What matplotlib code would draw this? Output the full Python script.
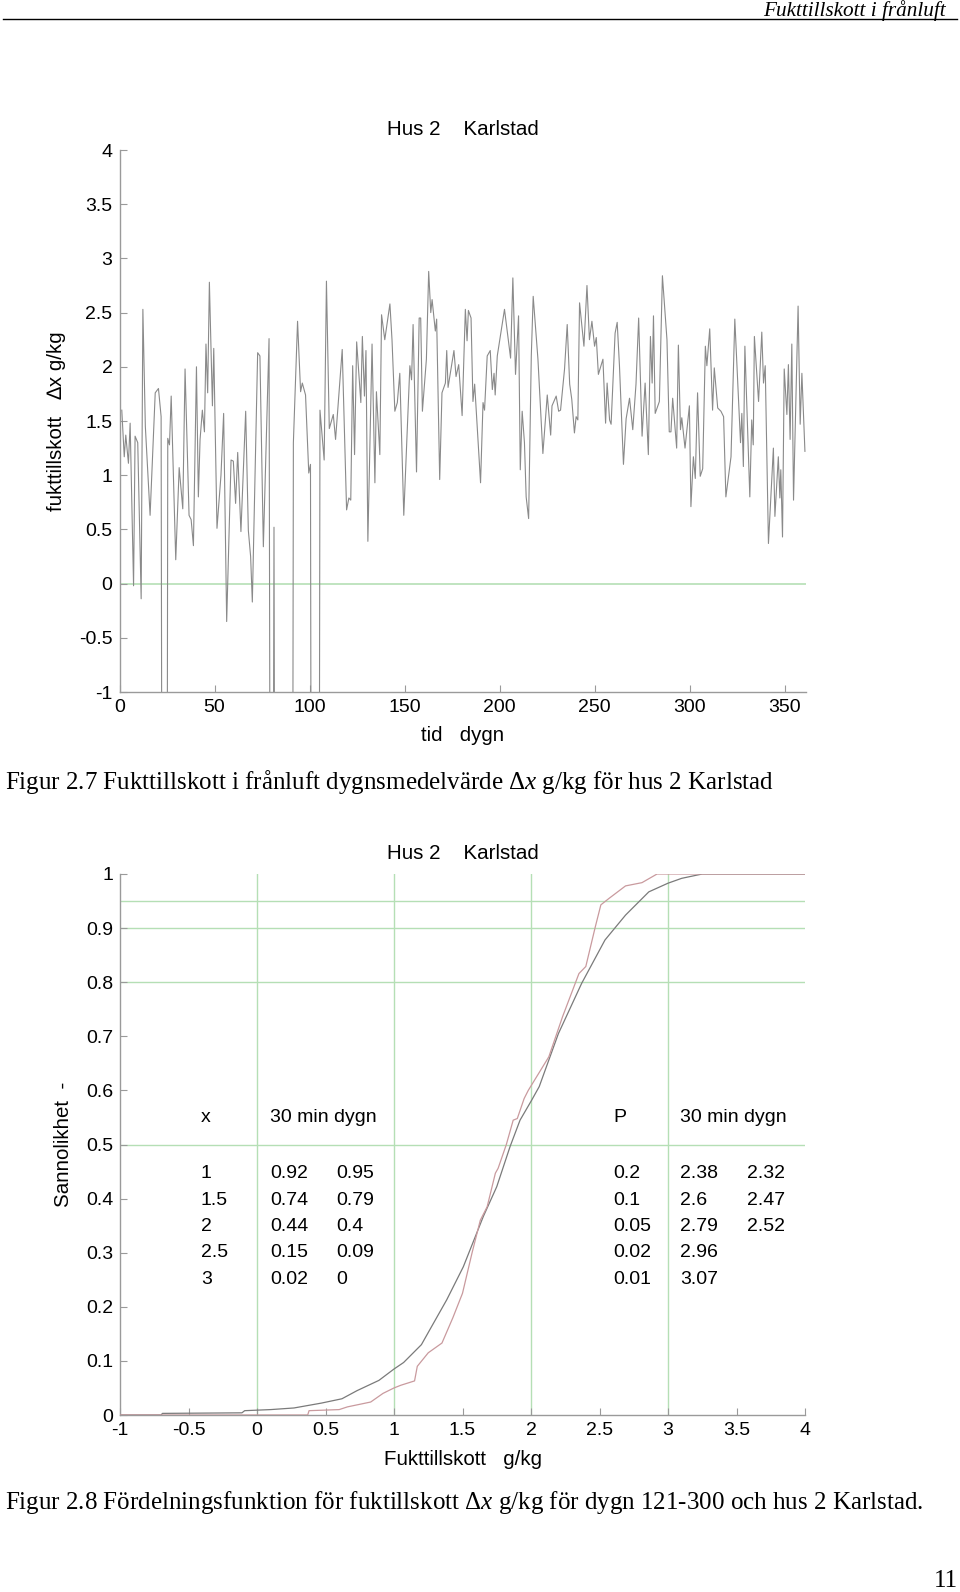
import matplotlib
matplotlib.use("Agg")
import matplotlib.pyplot as plt

plt.rcParams['font.family'] = ['Liberation Sans', 'DejaVu Sans']
plt.rcParams['mathtext.fontset'] = 'custom'
plt.rcParams['mathtext.rm'] = 'Liberation Serif'
plt.rcParams['mathtext.it'] = 'Liberation Serif:italic'

# ---------------- data: daily mean moisture supplement (top chart) ----------------
OFF = -9.0  # values far below the axis (shown as spikes out of the frame)
days = [1.2, 2.5, 3.3, 4.7, 5.6, 7.4, 8.2, 9.6, 11.4, 12.3, 13.6, 16.1, 18.8, 20.5, 21.9,
        23.0, 24.5, 25.4, 26.3, 27.2, 29.6, 31.4, 33.3, 34.5, 36.6, 37.7, 38.9, 40.5, 41.5,
        42.4, 43.6, 44.7, 45.5, 46.4, 47.3, 48.9, 49.6, 51.3, 53.4, 54.8, 56.4, 58.7, 59.9,
        61.1, 62.2, 63.9, 66.4, 67.8, 69.0, 69.9, 72.7, 73.9, 75.7, 78.7, 80.0, 81.3, 82.5,
        90.5, 91.5, 93.7, 95.3, 96.2, 97.9, 99.6, 100.5, 101.5, 104.5, 105.5, 107.7, 108.9,
        110.4, 112.5, 113.7, 117.2, 119.5, 120.7, 121.7, 122.7, 123.7, 124.8, 127.0, 127.8,
        128.9, 129.7, 130.7, 132.9, 134.4, 135.2, 137.0, 137.9, 139.6, 142.3, 143.4, 144.9,
        146.2, 147.5, 149.6, 152.8, 153.7, 154.5, 156.3, 157.7, 158.5, 159.4, 161.5, 162.7,
        163.8, 164.5, 166.2, 166.9, 168.5, 169.7, 171.5, 172.2, 172.9, 176.0, 177.1, 178.5,
        180.3, 182.0, 182.9, 183.6, 185.0, 186.0, 186.9, 190.0, 191.3, 192.1, 193.5, 195.1,
        196.2, 197.1, 197.7, 198.8, 200.4, 202.6, 205.8, 207.0, 208.4, 210.0, 210.9, 211.9,
        213.1, 214.0, 215.3, 216.7, 217.7, 220.2, 222.8, 225.1, 226.9, 227.6, 229.8, 231.1,
        232.1, 234.2, 235.6, 236.9, 238.0, 239.4, 240.3, 241.2, 242.1, 244.4, 246.0, 247.3,
        248.6, 250.0, 250.9, 252.0, 254.4, 255.8, 256.6, 257.9, 258.7, 260.8, 261.9, 263.1,
        265.2, 266.6, 268.4, 270.1, 271.8, 273.2, 275.0, 276.6, 278.3, 279.4, 280.3, 281.0,
        281.9, 284.1, 285.7, 288.1, 289.3, 290.2, 291.1, 293.2, 294.1, 295.2, 295.9, 297.6,
        299.9, 300.7, 302.0, 303.0, 304.2, 305.6, 306.9, 308.3, 309.1, 310.6, 312.1, 313.0,
        314.8, 316.5, 317.9, 319.1, 321.8, 323.8, 326.8, 327.5, 328.3, 329.1, 331.7, 332.7,
        333.5, 334.1, 336.3, 338.0, 338.9, 339.8, 341.5, 344.1, 344.9, 346.7, 347.5, 348.0,
        348.9, 349.8, 351.2, 352.0, 352.9, 353.8, 354.7, 357.1, 358.2, 359.1, 360.7]
dx = [1.60, 1.17, 1.37, 1.11, 1.48, -0.02, 1.36, 1.30, -0.14, 2.53, 1.45, 0.63, 1.76, 1.80, 1.54,
      OFF, OFF, 1.34, 1.28, 1.73, 0.22, 1.07, 0.69, 1.98, 0.63, 0.59, 0.35, 2.00, 0.80,
      1.33, 1.60, 1.40, 2.21, 1.76, 2.78, 1.64, 2.17, 0.51, 1.00, 1.57, -0.35, 1.14, 1.13,
      0.74, 1.21, 0.48, 1.59, 0.49, 0.25, -0.17, 2.13, 2.10, 0.34, 2.26, OFF, 0.52, OFF,
      OFF, 1.30, 2.42, 1.77, 1.85, 1.74, 1.02, 1.10, OFF, OFF, 1.60, 1.14, 2.79,
      1.43, 1.56, 1.33, 2.16, 0.68, 0.79, 0.77, 2.01, 1.19, 2.23, 1.67, 2.28,
      1.73, 2.15, 0.39, 2.21, 0.93, 1.77, 1.19, 2.48, 2.25, 2.58, 2.25, 1.59,
      1.67, 1.94, 0.63, 2.01, 1.88, 2.39, 1.03, 2.45, 2.45, 1.59, 2.07, 2.88,
      2.50, 2.62, 2.33, 2.44, 0.96, 1.76, 1.85, 2.15, 1.81, 2.15, 1.91, 2.02,
      1.55, 2.53, 2.24, 2.52, 2.45, 1.68, 1.84, 0.93, 1.67, 1.60, 2.10, 2.15,
      1.79, 1.94, 1.74, 2.10, 2.28, 2.53, 2.08, 2.82, 1.93, 2.47, 1.05, 1.59,
      1.30, 0.80, 0.60, 2.10, 2.65, 2.07, 1.20, 1.74, 1.37, 1.64, 1.73, 1.59,
      1.60, 1.98, 2.39, 1.84, 1.70, 1.39, 1.54, 1.51, 2.59, 2.19, 2.75, 2.25,
      2.42, 2.19, 2.27, 1.93, 2.07, 1.48, 1.85, 1.51, 1.47, 2.31, 2.41, 2.01,
      1.10, 1.52, 1.71, 1.42, 1.84, 2.45, 1.36, 1.85, 1.19, 2.28, 1.85, 2.47,
      1.57, 1.68, 2.84, 2.25, 1.40, 1.40, 1.71, 1.25, 2.20, 1.42, 1.53, 1.25,
      1.64, 0.71, 1.17, 0.97, 1.76, 0.99, 1.06, 2.19, 2.01, 2.35, 1.60, 1.99,
      1.62, 1.59, 1.54, 0.80, 1.17, 2.44, 1.30, 1.57, 1.08, 2.19, 0.80, 1.51,
      1.28, 2.28, 1.68, 2.32, 1.85, 2.01, 0.37, 1.25, 0.62, 1.17, 0.79, 1.05,
      0.43, 1.98, 1.56, 2.02, 1.33, 2.21, 0.77, 2.56, 1.47, 1.94, 1.22]

# ---------------- data: distribution functions (bottom chart) ----------------
x_30min = [-1.0, -0.70, -0.69, -0.11, -0.09, 0.10, 0.27, 0.47, 0.62, 0.73, 0.89, 1.00, 1.07,
           1.20, 1.26, 1.385, 1.506, 1.652, 1.75, 1.847, 1.92, 2.005, 2.06, 2.20, 2.37, 2.54,
           2.69, 2.86, 3.00, 3.10, 3.25, 4.0]
F_30min = [0.0, 0.0, 0.003, 0.004, 0.008, 0.010, 0.013, 0.022, 0.030, 0.045, 0.064, 0.085, 0.097,
           0.13, 0.157, 0.213, 0.274, 0.367, 0.422, 0.496, 0.545, 0.582, 0.607, 0.705, 0.798, 0.878,
           0.924, 0.967, 0.983, 0.992, 1.0, 1.0]
x_dygn = [-1.0, 0.37, 0.38, 0.60, 0.66, 0.83, 0.92, 1.00, 1.05, 1.15, 1.17, 1.25, 1.35, 1.43,
          1.50, 1.57, 1.63, 1.68, 1.74, 1.76, 1.82, 1.87, 1.90, 1.95, 1.98, 2.13, 2.23, 2.35,
          2.40, 2.47, 2.51, 2.57, 2.69, 2.81, 2.92, 4.0]
F_dygn = [0.0, 0.0, 0.008, 0.010, 0.015, 0.024, 0.040, 0.050, 0.055, 0.063, 0.09, 0.115, 0.133, 0.18,
          0.225, 0.30, 0.36, 0.385, 0.447, 0.456, 0.50, 0.545, 0.548, 0.585, 0.60, 0.662, 0.736, 0.816,
          0.829, 0.903, 0.943, 0.955, 0.978, 0.984, 1.0, 1.0]

tab_x = ["1", "1.5", "2", "2.5", "3"]
tab_exc_30min = ["0.92", "0.74", "0.44", "0.15", "0.02"]
tab_exc_dygn = ["0.95", "0.79", "0.4", "0.09", "0"]
tab_P = ["0.2", "0.1", "0.05", "0.02", "0.01"]
tab_xP_30min = ["2.38", "2.6", "2.79", "2.96", "3.07"]
tab_xP_dygn = ["2.32", "2.47", "2.52", "", ""]

top_yticks = [-1, -0.5, 0, 0.5, 1, 1.5, 2, 2.5, 3, 3.5, 4]
top_xticks = [0, 50, 100, 150, 200, 250, 300, 350]
bot_xticks = [-1, -0.5, 0, 0.5, 1, 1.5, 2, 2.5, 3, 3.5, 4]
bot_yticks = [0, 0.1, 0.2, 0.3, 0.4, 0.5, 0.6, 0.7, 0.8, 0.9, 1]
grid_v = [0, 1, 2, 3]
grid_h = [0.5, 0.8, 0.9, 0.95]

def fmt(v):
    return '%g' % v

W, H = 960, 1592
fig = plt.figure(figsize=(W / 100, H / 100), dpi=100)
fig.patch.set_facecolor('white')

SPINE = '#9a9a9a'
GREEN = '#b5dfb5'
FS = 14
LFS = 14.8

def style(ax):
    for s in ['top', 'right']:
        ax.spines[s].set_visible(False)
    for s in ['left', 'bottom']:
        ax.spines[s].set_color(SPINE)
        ax.spines[s].set_linewidth(1.0)
    ax.tick_params(direction='in', length=5, width=0.8, color=SPINE,
                   labelsize=FS, pad=5)

# ---------------- top chart ----------------
ax1 = fig.add_axes([119.5 / W, 1 - 692 / H, 686 / W, 542 / H])
style(ax1)
ax1.axhline(0, color=GREEN, lw=1.2, zorder=1)
ax1.plot(days, dx, color='#8a8a8a', lw=0.8, zorder=2)
ax1.set_xlim(0, 361)
ax1.set_ylim(-1, 4)
ax1.set_xticks(top_xticks)
ax1.set_xticklabels([fmt(v) for v in top_xticks])
ax1.set_yticks(top_yticks)
ax1.set_yticklabels([fmt(v) for v in top_yticks])
ax1.set_title('Hus 2    Karlstad', fontsize=LFS, pad=11)
ax1.set_xlabel('tid   dygn', fontsize=LFS, labelpad=7)
ax1.set_ylabel('fukttillskott   \u2206x g/kg', fontsize=LFS, labelpad=9)

# ---------------- bottom chart ----------------
ax2 = fig.add_axes([120 / W, 1 - 1415 / H, 685 / W, 541 / H])
style(ax2)
for v in grid_v:
    ax2.axvline(v, color=GREEN, lw=1.0, zorder=1)
for h in grid_h:
    ax2.axhline(h, color=GREEN, lw=1.0, zorder=1)
ax2.plot(x_30min, F_30min, color='#7a7a7a', lw=0.9, zorder=3)
ax2.plot(x_dygn, F_dygn, color='#c99a9e', lw=0.9, zorder=3)
ax2.set_xlim(-1, 4)
ax2.set_ylim(0, 1)
ax2.set_xticks(bot_xticks)
ax2.set_xticklabels([fmt(v) for v in bot_xticks])
ax2.set_yticks(bot_yticks)
ax2.set_yticklabels([fmt(v) for v in bot_yticks])
ax2.set_title('Hus 2    Karlstad', fontsize=LFS, pad=11)
ax2.set_xlabel('Fukttillskott   g/kg', fontsize=LFS, labelpad=8)
ax2.set_ylabel('Sannolikhet  -', fontsize=LFS, labelpad=9.5)

# table inside bottom chart (data coordinates)
kw = dict(fontsize=FS, va='center', ha='left', zorder=4)
ax2.text(-0.41, 0.549, 'x', **kw)
ax2.text(0.095, 0.549, '30 min dygn', **kw)
ax2.text(2.60, 0.549, 'P', **kw)
ax2.text(3.09, 0.549, '30 min dygn', **kw)
rows_y = [0.446, 0.396, 0.348, 0.300, 0.250]
for i, yy in enumerate(rows_y):
    ax2.text(-0.41, yy, tab_x[i], **kw)
    ax2.text(0.095, yy, tab_exc_30min[i], **kw)
    ax2.text(0.577, yy, tab_exc_dygn[i], **kw)
    ax2.text(2.60, yy, tab_P[i], **kw)
    ax2.text(3.09, yy, tab_xP_30min[i], **kw)
    if tab_xP_dygn[i]:
        ax2.text(3.58, yy, tab_xP_dygn[i], **kw)

# ---------------- page texts ----------------
serif = ['Liberation Serif', 'DejaVu Serif']
fig.text(946 / W, 1 - 11 / H, 'Fukttillskott i frånluft', family=serif, style='italic',
         fontsize=15.3, ha='right', va='center')
fig.add_artist(plt.Line2D([3 / W, 957 / W], [1 - 19 / H, 1 - 19 / H], color='black', lw=1.0))
fig.text(5 / W, 1 - 782 / H,
         'Figur 2.7 Fukttillskott i frånluft dygnsmedelvärde $\\Delta \\mathit{x}$ g/kg för hus 2 Karlstad',
         family=serif, fontsize=18, ha='left', va='center')
fig.text(5 / W, 1 - 1503 / H,
         'Figur 2.8 Fördelningsfunktion för fuktillskott $\\Delta \\mathit{x}$ g/kg för dygn 121-300 och hus 2 Karlstad.',
         family=serif, fontsize=18, ha='left', va='center')
fig.text(958 / W, 1 - 1581 / H, '11', family=serif, fontsize=18, ha='right', va='center')

fig.savefig('out.png', dpi=100, facecolor='white')
